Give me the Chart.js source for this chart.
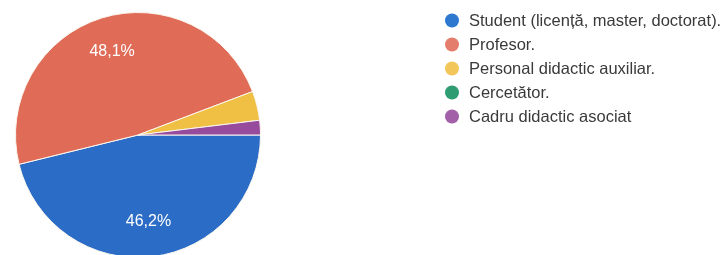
<!DOCTYPE html>
<html>
<head>
<meta charset="utf-8">
<script src="https://cdn.jsdelivr.net/npm/chart.js@4.4.1/dist/chart.umd.min.js"></script>
<style>
  html, body { margin: 0; padding: 0; background: #fff; overflow: hidden; }
  #wrap { position: relative; width: 724px; height: 262px; }
</style>
</head>
<body>
<div id="wrap"><canvas id="chart"></canvas></div>
<script>
const categories = [
  "Student (licență, master, doctorat).",
  "Profesor.",
  "Personal didactic auxiliar.",
  "Cercetător.",
  "Cadru didactic asociat",
];
const responses = [24, 25, 2, 0, 1];
const sliceColors = ["#2a6cc6", "#e06c58", "#efc043", "#2f9c70", "#974b9c"];
const legendColors = ["#2f78d0", "#e47d6c", "#f3c65a", "#2f9c72", "#a160a8"];

const total = responses.reduce((a, b) => a + b, 0);

function percentLabel(value) {
  return (value / total * 100).toFixed(1).replace(".", ",") + "%";
}

// percentages inside the big slices
const sliceLabels = {
  id: "sliceLabels",
  afterDatasetsDraw(chart) {
    const { ctx } = chart;
    const meta = chart.getDatasetMeta(0);
    ctx.save();
    ctx.fillStyle = "#ffffff";
    ctx.font = "16px 'Liberation Sans', Arial, sans-serif";
    ctx.textAlign = "center";
    ctx.textBaseline = "middle";
    meta.data.forEach((arc, i) => {
      const value = responses[i];
      if (value / total < 0.1) return;
      const p = arc.getProps(["x", "y", "startAngle", "endAngle", "outerRadius"], true);
      const mid = (p.startAngle + p.endAngle) / 2;
      const r = p.outerRadius * 0.71;
      ctx.fillText(percentLabel(value), p.x + Math.cos(mid) * r, p.y + Math.sin(mid) * r);
    });
    ctx.restore();
  },
};

// legend on the right, circle markers
const sideLegend = {
  id: "sideLegend",
  afterDraw(chart) {
    const { ctx } = chart;
    ctx.save();
    ctx.font = "16.5px 'Liberation Sans', Arial, sans-serif";
    ctx.textBaseline = "middle";
    chart.data.labels.forEach((label, i) => {
      const y = 20.5 + i * 24;
      ctx.beginPath();
      ctx.arc(452, y, 7, 0, Math.PI * 2);
      ctx.fillStyle = legendColors[i];
      ctx.fill();
      ctx.fillStyle = "#3a3a3a";
      ctx.fillText(label, 469, y + 1);
    });
    ctx.restore();
  },
};

new Chart(document.getElementById("chart"), {
  type: "pie",
  data: {
    labels: categories,
    datasets: [
      {
        data: responses,
        backgroundColor: sliceColors,
        borderColor: "#fbf6ee",
        borderWidth: 1,
      },
    ],
  },
  options: {
    responsive: true,
    maintainAspectRatio: false,
    animation: false,
    rotation: 90,
    layout: { padding: { left: 15, top: 12, right: 463, bottom: 4 } },
    plugins: {
      legend: { display: false },
      tooltip: { enabled: false },
    },
  },
  plugins: [sliceLabels, sideLegend],
});
</script>
</body>
</html>
